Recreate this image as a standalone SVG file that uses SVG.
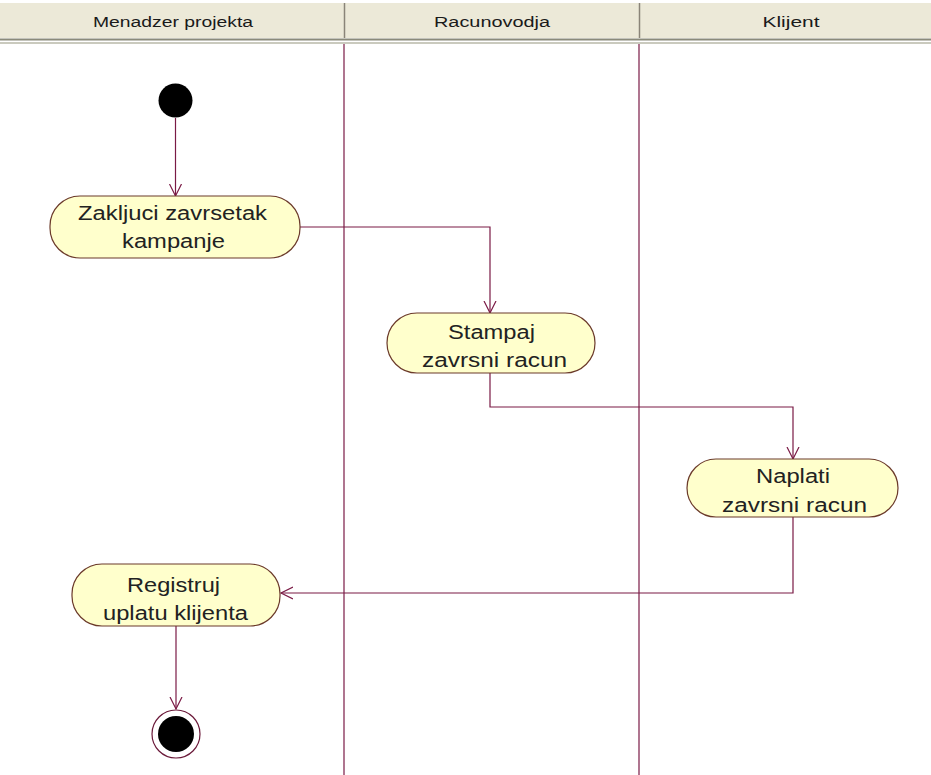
<svg xmlns="http://www.w3.org/2000/svg" width="931" height="775" viewBox="0 0 931 775">
<defs>
<style>
.lane{stroke:#7a1a45;stroke-width:1.2;fill:none}
.hdr{font-family:"Liberation Sans",Arial,sans-serif;font-size:14px;fill:#1a1a1a;text-anchor:middle}
.act{fill:#ffffcc;stroke:#6b3a2a;stroke-width:1.2}
.lbl{font-family:"Liberation Sans",Arial,sans-serif;font-size:20px;fill:#222;text-anchor:middle}
.con{stroke:#7a1a45;stroke-width:1.2;fill:none}
</style>
<marker id="open" markerWidth="14" markerHeight="14" refX="12" refY="7" orient="auto" markerUnits="userSpaceOnUse">
<path d="M0,1 L12,7 L0,13" fill="none" stroke="#7a1a45" stroke-width="1.2"/>
</marker>
</defs>
<rect width="931" height="775" fill="#ffffff"/>
<g id="header">
<rect x="0" y="3" width="931" height="35" fill="#ece9d8"/>
<line x1="0" y1="39.5" x2="931" y2="39.5" stroke="#8a8a7a" stroke-width="2"/>
<line x1="0" y1="43" x2="931" y2="43" stroke="#b8b8a8" stroke-width="1.5"/>
<line x1="344.5" y1="3" x2="344.5" y2="38" stroke="#8a8478" stroke-width="1.5"/>
<line x1="639.5" y1="3" x2="639.5" y2="38" stroke="#8a8478" stroke-width="1.5"/>
<text class="hdr" x="173" y="27" textLength="160" lengthAdjust="spacingAndGlyphs">Menadzer projekta</text>
<text class="hdr" x="492" y="27" textLength="116" lengthAdjust="spacingAndGlyphs">Racunovodja</text>
<text class="hdr" x="791" y="27" textLength="57" lengthAdjust="spacingAndGlyphs">Klijent</text>
</g>
<g id="lanes">
<line class="lane" x1="344" y1="44" x2="344" y2="775"/>
<line class="lane" x1="639" y1="44" x2="639" y2="775"/>
</g>
<g id="connectors">
<path class="con" d="M175.5,118 L175.5,196" marker-end="url(#open)"/>
<path class="con" d="M300,227 L490,227 L490,313" marker-end="url(#open)"/>
<path class="con" d="M490,373 L490,407 L793,407 L793,459" marker-end="url(#open)"/>
<path class="con" d="M793,517 L793,593 L281,593" marker-end="url(#open)"/>
<path class="con" d="M176,626 L176,709" marker-end="url(#open)"/>
</g>
<g id="start">
<circle cx="175.5" cy="100.5" r="17" fill="#000000"/>
</g>
<g id="n1">
<rect class="act" x="50" y="196" width="250" height="62" rx="30" ry="30"/>
<text class="lbl" x="172.5" y="220" textLength="189" lengthAdjust="spacingAndGlyphs">Zakljuci zavrsetak</text>
<text class="lbl" x="173.5" y="248" textLength="103" lengthAdjust="spacingAndGlyphs">kampanje</text>
</g>
<g id="n2">
<rect class="act" x="387" y="313" width="208" height="60" rx="30" ry="30"/>
<text class="lbl" x="491.5" y="339" textLength="87" lengthAdjust="spacingAndGlyphs">Stampaj</text>
<text class="lbl" x="494.5" y="367" textLength="145" lengthAdjust="spacingAndGlyphs">zavrsni racun</text>
</g>
<g id="n3">
<rect class="act" x="687" y="459" width="211" height="58" rx="29" ry="29"/>
<text class="lbl" x="793" y="483" textLength="74" lengthAdjust="spacingAndGlyphs">Naplati</text>
<text class="lbl" x="794.5" y="512" textLength="145" lengthAdjust="spacingAndGlyphs">zavrsni racun</text>
</g>
<g id="n4">
<rect class="act" x="72" y="564" width="208" height="62" rx="30" ry="30"/>
<text class="lbl" x="173.5" y="592" textLength="93" lengthAdjust="spacingAndGlyphs">Registruj</text>
<text class="lbl" x="175.5" y="620" textLength="145" lengthAdjust="spacingAndGlyphs">uplatu klijenta</text>
</g>
<g id="end">
<circle cx="176" cy="734" r="24" fill="#ffffff" stroke="#6b1a3a" stroke-width="1.2"/>
<circle cx="176" cy="734" r="18" fill="#000000"/>
</g>
</svg>
